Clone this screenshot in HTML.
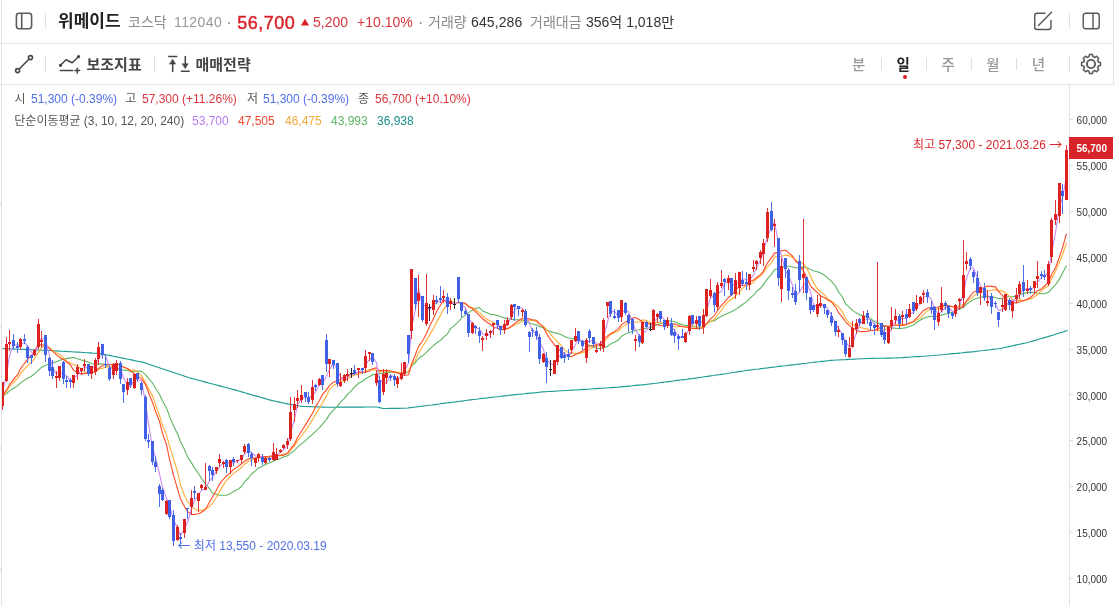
<!DOCTYPE html>
<html lang="ko"><head><meta charset="utf-8"><title>위메이드 차트</title>
<style>
*{box-sizing:border-box;margin:0;padding:0}
html,body{width:1114px;height:606px;overflow:hidden;background:#fff}
body{font-family:"Liberation Sans","Noto Sans CJK KR",sans-serif;color:#222;position:relative}
.abs{position:absolute;white-space:nowrap;line-height:1}
.chart{position:absolute;left:0;top:0}
.hline{position:absolute;left:0;width:1114px;height:1px;background:#e4e4e4}
.vline{position:absolute;width:1px;background:#e4e4e4}
.div{position:absolute;width:1px;height:16px;background:#e0e0e0}
svg.ic{position:absolute;overflow:visible}
</style></head><body>
<svg class="chart" width="1114" height="606" viewBox="0 0 1114 606" font-family="'Liberation Sans','Noto Sans CJK KR',sans-serif">
<line x1="1069.5" y1="85" x2="1069.5" y2="606" stroke="#e2e2e2" stroke-width="1"/>
<line x1="1069.5" y1="578.5" x2="1073" y2="578.5" stroke="#dcdcdc" stroke-width="1"/><text x="1076.6" y="583.1" font-size="10" fill="#333">10,000</text><line x1="1069.5" y1="532.5" x2="1073" y2="532.5" stroke="#dcdcdc" stroke-width="1"/><text x="1076.6" y="537.2" font-size="10" fill="#333">15,000</text><line x1="1069.5" y1="486.5" x2="1073" y2="486.5" stroke="#dcdcdc" stroke-width="1"/><text x="1076.6" y="491.3" font-size="10" fill="#333">20,000</text><line x1="1069.5" y1="440.5" x2="1073" y2="440.5" stroke="#dcdcdc" stroke-width="1"/><text x="1076.6" y="445.4" font-size="10" fill="#333">25,000</text><line x1="1069.5" y1="394.5" x2="1073" y2="394.5" stroke="#dcdcdc" stroke-width="1"/><text x="1076.6" y="399.5" font-size="10" fill="#333">30,000</text><line x1="1069.5" y1="349.5" x2="1073" y2="349.5" stroke="#dcdcdc" stroke-width="1"/><text x="1076.6" y="353.6" font-size="10" fill="#333">35,000</text><line x1="1069.5" y1="303.5" x2="1073" y2="303.5" stroke="#dcdcdc" stroke-width="1"/><text x="1076.6" y="307.7" font-size="10" fill="#333">40,000</text><line x1="1069.5" y1="257.5" x2="1073" y2="257.5" stroke="#dcdcdc" stroke-width="1"/><text x="1076.6" y="261.8" font-size="10" fill="#333">45,000</text><line x1="1069.5" y1="211.5" x2="1073" y2="211.5" stroke="#dcdcdc" stroke-width="1"/><text x="1076.6" y="215.9" font-size="10" fill="#333">50,000</text><line x1="1069.5" y1="165.5" x2="1073" y2="165.5" stroke="#dcdcdc" stroke-width="1"/><text x="1076.6" y="170.0" font-size="10" fill="#333">55,000</text><line x1="1069.5" y1="119.5" x2="1073" y2="119.5" stroke="#dcdcdc" stroke-width="1"/><text x="1076.6" y="124.1" font-size="10" fill="#333">60,000</text>
<g fill="none" stroke-width="1.1" stroke-linejoin="round">
<path d="M2.5,348.6 L5.5,348.7 L8.5,348.8 L11.5,349.0 L14.5,349.1 L17.5,349.2 L20.5,349.3 L23.5,349.4 L26.5,349.6 L29.5,349.7 L32.5,349.8 L35.5,349.9 L38.5,350.0 L41.5,350.2 L44.5,350.3 L47.5,350.4 L50.5,350.5 L53.5,350.7 L56.5,350.9 L59.5,351.1 L62.5,351.2 L65.5,351.4 L68.5,351.6 L71.5,351.8 L74.5,352.0 L77.5,352.1 L80.5,352.3 L83.5,352.5 L86.5,352.7 L89.5,352.9 L92.5,353.1 L95.5,353.2 L98.5,353.4 L101.5,353.8 L104.5,354.4 L107.5,355.0 L110.5,355.6 L113.5,356.3 L116.5,356.9 L119.5,357.5 L122.5,358.1 L125.5,358.7 L128.5,359.3 L131.5,359.9 L134.5,360.6 L137.5,361.2 L140.5,361.8 L143.5,362.4 L146.5,363.3 L149.5,364.4 L152.5,365.4 L155.5,366.4 L158.5,367.4 L161.5,368.4 L164.5,369.4 L167.5,370.4 L170.5,371.4 L173.5,372.4 L176.5,373.5 L179.5,374.5 L182.5,375.5 L185.5,376.5 L188.5,377.5 L191.5,378.4 L194.5,379.2 L197.5,380.0 L200.5,380.8 L203.5,381.6 L206.5,382.4 L209.5,383.2 L212.5,384.0 L215.5,384.8 L218.5,385.6 L221.5,386.4 L224.5,387.2 L227.5,388.0 L230.5,388.8 L233.5,389.6 L236.5,390.4 L239.5,391.3 L242.5,392.1 L245.5,393.0 L248.5,393.9 L251.5,394.7 L254.5,395.6 L257.5,396.4 L260.5,397.3 L263.5,398.1 L266.5,399.0 L269.5,399.9 L272.5,400.6 L275.5,401.2 L278.5,401.9 L281.5,402.6 L284.5,403.2 L287.5,403.9 L290.5,404.4 L293.5,405.0 L296.5,405.5 L299.5,406.0 L302.5,406.4 L305.5,406.5 L308.5,406.6 L311.5,406.7 L314.5,406.8 L317.5,406.9 L320.5,407.0 L323.5,407.1 L326.5,407.2 L329.5,407.2 L332.5,407.2 L335.5,407.2 L338.5,407.1 L341.5,407.1 L344.5,407.1 L347.5,407.1 L350.5,407.1 L353.5,407.1 L356.5,407.1 L359.5,407.1 L362.5,407.1 L365.5,407.0 L368.5,407.0 L371.5,407.0 L374.5,407.0 L377.5,407.0 L380.5,407.9 L383.5,408.5 L386.5,408.5 L389.5,408.4 L392.5,408.4 L395.5,408.4 L398.5,408.4 L401.5,408.3 L404.5,408.3 L407.5,408.0 L410.5,407.6 L413.5,407.2 L416.5,406.9 L419.5,406.5 L422.5,406.1 L425.5,405.7 L428.5,405.3 L431.5,405.0 L434.5,404.6 L437.5,404.2 L440.5,403.8 L443.5,403.4 L446.5,403.0 L449.5,402.6 L452.5,402.2 L455.5,401.9 L458.5,401.5 L461.5,401.1 L464.5,400.7 L467.5,400.3 L470.5,399.9 L473.5,399.5 L476.5,399.2 L479.5,398.8 L482.5,398.4 L485.5,398.1 L488.5,397.7 L491.5,397.4 L494.5,397.0 L497.5,396.7 L500.5,396.3 L503.5,395.9 L506.5,395.6 L509.5,395.2 L512.5,394.9 L515.5,394.6 L518.5,394.3 L521.5,394.1 L524.5,393.8 L527.5,393.4 L530.5,393.1 L533.5,392.9 L536.5,392.6 L539.5,392.2 L542.5,391.9 L545.5,391.7 L548.5,391.5 L551.5,391.4 L554.5,391.2 L557.5,391.0 L560.5,390.8 L563.5,390.7 L566.5,390.5 L569.5,390.3 L572.5,390.1 L575.5,390.0 L578.5,389.8 L581.5,389.6 L584.5,389.4 L587.5,389.2 L590.5,389.0 L593.5,388.8 L596.5,388.6 L599.5,388.4 L602.5,388.2 L605.5,388.0 L608.5,387.8 L611.5,387.6 L614.5,387.4 L617.5,387.2 L620.5,386.9 L623.5,386.6 L626.5,386.4 L629.5,386.1 L632.5,385.8 L635.5,385.4 L638.5,385.1 L641.5,384.9 L644.5,384.6 L647.5,384.2 L650.5,383.9 L653.5,383.5 L656.5,383.2 L659.5,382.8 L662.5,382.4 L665.5,382.0 L668.5,381.6 L671.5,381.2 L674.5,380.8 L677.5,380.4 L680.5,380.0 L683.5,379.6 L686.5,379.3 L689.5,378.9 L692.5,378.5 L695.5,378.1 L698.5,377.7 L701.5,377.3 L704.5,376.8 L707.5,376.4 L710.5,375.9 L713.5,375.5 L716.5,375.0 L719.5,374.6 L722.5,374.1 L725.5,373.7 L728.5,373.2 L731.5,372.8 L734.5,372.3 L737.5,371.9 L740.5,371.4 L743.5,371.0 L746.5,370.5 L749.5,370.1 L752.5,369.7 L755.5,369.3 L758.5,369.0 L761.5,368.6 L764.5,368.2 L767.5,367.9 L770.5,367.5 L773.5,367.1 L776.5,366.8 L779.5,366.4 L782.5,366.0 L785.5,365.7 L788.5,365.3 L791.5,364.9 L794.5,364.6 L797.5,364.2 L800.5,363.9 L803.5,363.5 L806.5,363.2 L809.5,362.8 L812.5,362.5 L815.5,362.1 L818.5,361.8 L821.5,361.4 L824.5,361.1 L827.5,360.7 L830.5,360.4 L833.5,360.2 L836.5,360.0 L839.5,359.9 L842.5,359.7 L845.5,359.6 L848.5,359.4 L851.5,359.3 L854.5,359.1 L857.5,359.0 L860.5,358.8 L863.5,358.7 L866.5,358.5 L869.5,358.5 L872.5,358.4 L875.5,358.3 L878.5,358.3 L881.5,358.2 L884.5,358.2 L887.5,358.1 L890.5,358.1 L893.5,358.0 L896.5,357.9 L899.5,357.7 L902.5,357.6 L905.5,357.4 L908.5,357.2 L911.5,357.0 L914.5,356.8 L917.5,356.6 L920.5,356.5 L923.5,356.2 L926.5,356.0 L929.5,355.7 L932.5,355.5 L935.5,355.2 L938.5,355.0 L941.5,354.7 L944.5,354.5 L947.5,354.2 L950.5,353.9 L953.5,353.6 L956.5,353.4 L959.5,353.1 L962.5,352.8 L965.5,352.4 L968.5,352.1 L971.5,351.9 L974.5,351.6 L977.5,351.2 L980.5,350.8 L983.5,350.5 L986.5,350.1 L989.5,349.8 L992.5,349.4 L995.5,349.0 L998.5,348.7 L1001.5,348.2 L1004.5,347.5 L1007.5,346.9 L1010.5,346.2 L1013.5,345.6 L1016.5,344.9 L1019.5,344.3 L1022.5,343.6 L1025.5,343.0 L1028.5,342.3 L1031.5,341.5 L1034.5,340.6 L1037.5,339.7 L1040.5,338.8 L1043.5,337.9 L1046.5,337.0 L1049.5,336.1 L1052.5,335.2 L1055.5,334.2 L1058.5,333.3 L1061.5,332.4 L1064.5,331.4 L1067.5,330.5" stroke="#1a9a94"/>
<path d="M2.5,396.3 L6.5,393.6 L9.5,390.9 L13.5,388.3 L17.5,385.9 L20.5,382.9 L24.5,380.1 L27.5,378.2 L31.5,376.2 L34.5,373.9 L38.5,370.2 L41.5,367.4 L45.5,365.3 L49.5,364.0 L52.5,362.9 L56.5,361.8 L59.5,360.3 L63.5,359.4 L66.5,358.6 L70.5,357.9 L73.5,357.5 L77.5,358.7 L81.5,360.0 L84.5,360.9 L88.5,362.2 L91.5,363.5 L95.5,364.5 L98.5,363.9 L102.5,363.8 L105.5,364.6 L109.5,367.3 L113.5,368.5 L116.5,368.9 L120.5,369.3 L123.5,370.1 L127.5,370.4 L130.5,371.4 L134.5,371.1 L137.5,371.0 L141.5,371.4 L145.5,374.6 L148.5,378.3 L152.5,383.0 L155.5,388.2 L159.5,394.2 L162.5,400.9 L166.5,407.9 L169.5,416.4 L173.5,425.7 L177.5,433.8 L180.5,441.8 L184.5,449.5 L187.5,456.9 L191.5,462.9 L194.5,467.9 L198.5,473.5 L201.5,478.5 L205.5,484.1 L209.5,488.7 L212.5,493.0 L216.5,494.4 L219.5,495.2 L223.5,495.2 L226.5,495.2 L230.5,493.5 L233.5,491.6 L237.5,489.6 L241.5,486.5 L244.5,481.8 L248.5,478.0 L251.5,474.0 L255.5,470.9 L258.5,468.1 L262.5,466.3 L265.5,464.5 L269.5,462.9 L273.5,461.2 L276.5,459.6 L280.5,458.5 L283.5,457.0 L287.5,455.8 L290.5,453.4 L294.5,450.5 L297.5,447.1 L301.5,443.9 L305.5,440.6 L308.5,437.7 L312.5,434.3 L315.5,431.4 L319.5,427.7 L322.5,424.1 L326.5,419.4 L329.5,414.6 L333.5,409.8 L337.5,406.1 L340.5,402.2 L344.5,398.4 L347.5,394.4 L351.5,390.6 L354.5,387.0 L358.5,383.3 L362.5,381.2 L365.5,378.8 L369.5,376.5 L372.5,374.9 L376.5,373.7 L379.5,373.7 L383.5,373.1 L386.5,372.4 L390.5,372.3 L394.5,372.0 L397.5,372.7 L401.5,373.4 L404.5,373.2 L408.5,371.7 L411.5,366.1 L415.5,362.5 L418.5,358.5 L422.5,355.8 L426.5,352.3 L429.5,349.2 L433.5,345.7 L436.5,343.0 L440.5,340.4 L443.5,337.1 L447.5,333.8 L450.5,328.7 L454.5,325.3 L458.5,321.6 L461.5,318.2 L465.5,314.9 L468.5,312.6 L472.5,310.1 L475.5,308.4 L479.5,307.5 L482.5,311.0 L486.5,312.4 L490.5,314.3 L493.5,314.5 L497.5,315.6 L500.5,316.7 L504.5,317.9 L507.5,318.8 L511.5,319.1 L514.5,319.6 L518.5,319.7 L522.5,320.1 L525.5,321.1 L529.5,323.0 L532.5,324.0 L536.5,325.1 L539.5,326.5 L543.5,328.0 L546.5,330.0 L550.5,331.6 L554.5,332.7 L557.5,333.4 L561.5,334.7 L564.5,336.4 L568.5,338.0 L571.5,338.5 L575.5,339.1 L578.5,340.2 L582.5,342.2 L586.5,343.9 L589.5,345.3 L593.5,347.0 L596.5,348.2 L600.5,348.6 L603.5,348.0 L607.5,346.3 L610.5,344.1 L614.5,342.3 L618.5,339.8 L621.5,336.3 L625.5,333.9 L628.5,332.8 L632.5,331.4 L635.5,330.5 L639.5,329.7 L642.5,328.8 L646.5,328.3 L650.5,327.8 L653.5,326.0 L657.5,324.7 L660.5,323.8 L664.5,322.9 L667.5,321.4 L671.5,321.0 L674.5,321.8 L678.5,323.6 L682.5,324.8 L685.5,325.6 L689.5,325.4 L692.5,326.6 L696.5,327.0 L699.5,327.2 L703.5,326.5 L706.5,324.0 L710.5,321.4 L714.5,320.6 L717.5,318.5 L721.5,316.2 L724.5,314.8 L728.5,313.0 L731.5,311.8 L735.5,309.4 L739.5,307.0 L742.5,304.5 L746.5,301.9 L749.5,298.6 L753.5,295.1 L756.5,291.5 L760.5,288.3 L763.5,284.3 L767.5,278.9 L771.5,274.1 L774.5,269.5 L778.5,269.0 L781.5,267.8 L785.5,266.0 L788.5,266.2 L792.5,266.8 L795.5,267.8 L799.5,267.9 L803.5,266.9 L806.5,267.5 L810.5,269.4 L813.5,270.7 L817.5,271.7 L820.5,273.1 L824.5,275.2 L827.5,277.9 L831.5,281.4 L835.5,285.9 L838.5,291.8 L842.5,297.3 L845.5,303.8 L849.5,307.3 L852.5,310.4 L856.5,313.1 L859.5,314.6 L863.5,315.7 L867.5,316.6 L870.5,318.8 L874.5,321.5 L877.5,323.1 L881.5,324.3 L884.5,325.9 L888.5,327.0 L891.5,327.9 L895.5,328.3 L899.5,328.7 L902.5,328.3 L906.5,327.6 L909.5,326.6 L913.5,325.1 L916.5,322.5 L920.5,320.0 L923.5,318.2 L927.5,316.9 L931.5,316.3 L934.5,316.5 L938.5,316.2 L941.5,315.1 L945.5,314.0 L948.5,313.4 L952.5,312.4 L955.5,310.7 L959.5,309.3 L963.5,307.0 L966.5,304.3 L970.5,301.4 L973.5,299.5 L977.5,298.3 L980.5,297.2 L984.5,296.5 L987.5,296.4 L991.5,296.9 L995.5,297.5 L998.5,298.6 L1002.5,298.4 L1005.5,297.1 L1009.5,296.7 L1012.5,296.6 L1016.5,296.1 L1019.5,294.6 L1023.5,293.4 L1027.5,292.6 L1030.5,292.2 L1034.5,292.5 L1037.5,293.2 L1041.5,293.7 L1044.5,293.7 L1048.5,292.3 L1051.5,288.9 L1055.5,284.8 L1059.5,278.9 L1062.5,273.3 L1066.5,265.6" stroke="#5cb563"/>
<path d="M2.5,395.8 L6.5,391.3 L9.5,386.8 L13.5,382.5 L17.5,378.4 L20.5,373.6 L24.5,368.9 L27.5,365.6 L31.5,362.4 L34.5,358.5 L38.5,352.4 L41.5,347.6 L45.5,345.4 L49.5,347.6 L52.5,350.4 L56.5,352.9 L59.5,354.4 L63.5,357.8 L66.5,361.2 L70.5,363.1 L73.5,364.5 L77.5,366.0 L81.5,369.7 L84.5,371.7 L88.5,373.2 L91.5,372.8 L95.5,371.5 L98.5,369.1 L102.5,368.2 L105.5,367.1 L109.5,366.9 L113.5,365.4 L116.5,364.3 L120.5,365.3 L123.5,367.2 L127.5,368.8 L130.5,369.8 L134.5,370.4 L137.5,371.9 L141.5,375.6 L145.5,382.5 L148.5,388.9 L152.5,395.8 L155.5,404.5 L159.5,415.4 L162.5,425.5 L166.5,434.6 L169.5,445.8 L173.5,458.8 L177.5,471.5 L180.5,484.8 L184.5,495.6 L187.5,501.5 L191.5,506.1 L194.5,508.8 L198.5,511.0 L201.5,510.2 L205.5,509.2 L209.5,506.7 L212.5,503.2 L216.5,497.0 L219.5,491.4 L223.5,484.9 L226.5,480.6 L230.5,476.4 L233.5,473.4 L237.5,470.6 L241.5,467.5 L244.5,464.2 L248.5,461.4 L251.5,460.3 L255.5,458.8 L258.5,457.7 L262.5,458.0 L265.5,457.6 L269.5,457.1 L273.5,456.4 L276.5,455.8 L280.5,455.0 L283.5,454.1 L287.5,453.7 L290.5,450.3 L294.5,445.9 L297.5,440.9 L301.5,436.0 L305.5,430.6 L308.5,426.0 L312.5,419.9 L315.5,414.4 L319.5,408.1 L322.5,402.8 L326.5,396.1 L329.5,389.2 L333.5,385.3 L337.5,383.6 L340.5,382.3 L344.5,380.6 L347.5,378.7 L351.5,376.3 L354.5,375.2 L358.5,373.7 L362.5,372.9 L365.5,370.5 L369.5,369.5 L372.5,369.7 L376.5,370.4 L379.5,371.9 L383.5,371.3 L386.5,371.1 L390.5,371.4 L394.5,371.9 L397.5,372.2 L401.5,372.6 L404.5,372.0 L408.5,371.8 L411.5,364.8 L415.5,360.1 L418.5,353.3 L422.5,346.5 L426.5,340.6 L429.5,335.1 L433.5,328.6 L436.5,322.1 L440.5,315.6 L443.5,309.3 L447.5,304.7 L450.5,300.3 L454.5,303.2 L458.5,302.8 L461.5,304.3 L465.5,303.8 L468.5,306.2 L472.5,307.5 L475.5,309.8 L479.5,312.6 L482.5,315.8 L486.5,318.9 L490.5,320.9 L493.5,322.7 L497.5,324.4 L500.5,327.0 L504.5,328.1 L507.5,328.6 L511.5,326.3 L514.5,325.0 L518.5,323.4 L522.5,321.2 L525.5,320.1 L529.5,320.4 L532.5,320.4 L536.5,321.5 L539.5,324.3 L543.5,326.3 L546.5,329.9 L550.5,334.1 L554.5,338.7 L557.5,341.9 L561.5,346.0 L564.5,349.9 L568.5,352.6 L571.5,352.9 L575.5,353.3 L578.5,353.7 L582.5,352.6 L586.5,351.4 L589.5,349.0 L593.5,346.8 L596.5,345.9 L600.5,345.8 L603.5,342.6 L607.5,338.0 L610.5,334.4 L614.5,332.6 L618.5,331.1 L621.5,327.6 L625.5,324.9 L628.5,323.5 L632.5,322.8 L635.5,322.3 L639.5,321.7 L642.5,319.9 L646.5,320.5 L650.5,322.7 L653.5,322.5 L657.5,322.2 L660.5,322.3 L664.5,324.5 L667.5,325.1 L671.5,326.1 L674.5,326.7 L678.5,326.7 L682.5,326.3 L685.5,327.2 L689.5,326.3 L692.5,325.8 L696.5,326.6 L699.5,327.6 L703.5,327.2 L706.5,324.1 L710.5,321.6 L714.5,319.2 L717.5,315.0 L721.5,310.3 L724.5,305.7 L728.5,301.2 L731.5,299.5 L735.5,295.8 L739.5,291.8 L742.5,288.2 L746.5,285.6 L749.5,284.4 L753.5,282.4 L756.5,278.7 L760.5,276.0 L763.5,272.6 L767.5,266.8 L771.5,262.8 L774.5,256.9 L778.5,256.7 L781.5,256.2 L785.5,255.0 L788.5,255.6 L792.5,257.4 L795.5,260.2 L799.5,261.9 L803.5,263.7 L806.5,267.8 L810.5,276.0 L813.5,282.6 L817.5,289.2 L820.5,291.3 L824.5,294.9 L827.5,298.7 L831.5,301.3 L835.5,304.4 L838.5,306.8 L842.5,311.7 L845.5,318.4 L849.5,323.0 L852.5,324.5 L856.5,325.6 L859.5,327.2 L863.5,328.3 L867.5,329.1 L870.5,330.0 L874.5,330.4 L877.5,329.9 L881.5,330.3 L884.5,330.2 L888.5,328.0 L891.5,325.7 L895.5,324.7 L899.5,324.8 L902.5,324.1 L906.5,324.2 L909.5,323.4 L913.5,322.2 L916.5,320.1 L920.5,317.8 L923.5,314.3 L927.5,310.7 L931.5,309.2 L934.5,309.3 L938.5,309.1 L941.5,307.3 L945.5,306.6 L948.5,306.2 L952.5,306.7 L955.5,306.2 L959.5,305.9 L963.5,304.1 L966.5,301.4 L970.5,298.9 L973.5,296.1 L977.5,293.8 L980.5,291.7 L984.5,291.2 L987.5,290.8 L991.5,290.3 L995.5,289.4 L998.5,290.6 L1002.5,291.1 L1005.5,292.8 L1009.5,296.4 L1012.5,299.3 L1016.5,300.9 L1019.5,300.1 L1023.5,300.5 L1027.5,299.8 L1030.5,298.9 L1034.5,296.7 L1037.5,294.3 L1041.5,290.6 L1044.5,288.3 L1048.5,285.8 L1051.5,278.7 L1055.5,271.4 L1059.5,262.1 L1062.5,254.8 L1066.5,243.0" stroke="#ffad33"/>
<path d="M2.5,395.5 L6.5,390.2 L9.5,384.7 L13.5,379.6 L17.5,374.7 L20.5,368.9 L24.5,363.3 L27.5,359.4 L31.5,355.5 L34.5,350.8 L38.5,344.9 L41.5,344.6 L45.5,345.9 L49.5,348.3 L52.5,351.1 L56.5,354.8 L59.5,357.3 L63.5,359.4 L66.5,361.8 L70.5,365.0 L73.5,370.1 L77.5,372.8 L81.5,374.1 L84.5,373.4 L88.5,373.2 L91.5,372.3 L95.5,371.7 L98.5,368.4 L102.5,365.8 L105.5,364.2 L109.5,364.6 L113.5,364.2 L116.5,363.7 L120.5,365.1 L123.5,366.9 L127.5,368.5 L130.5,371.1 L134.5,373.8 L137.5,376.1 L141.5,378.6 L145.5,384.6 L148.5,392.5 L152.5,402.4 L155.5,411.2 L159.5,421.4 L162.5,433.2 L166.5,444.7 L169.5,459.1 L173.5,475.2 L177.5,488.9 L180.5,498.9 L184.5,506.6 L187.5,511.4 L191.5,514.5 L194.5,514.4 L198.5,513.8 L201.5,512.2 L205.5,509.2 L209.5,502.2 L212.5,497.0 L216.5,489.9 L219.5,483.8 L223.5,479.1 L226.5,475.9 L230.5,472.6 L233.5,469.4 L237.5,466.9 L241.5,463.8 L244.5,461.3 L248.5,459.0 L251.5,458.1 L255.5,458.0 L258.5,457.2 L262.5,456.7 L265.5,456.5 L269.5,456.3 L273.5,455.5 L276.5,455.4 L280.5,455.8 L283.5,455.1 L287.5,453.4 L290.5,448.9 L294.5,443.9 L297.5,437.5 L301.5,431.3 L305.5,424.9 L308.5,419.9 L312.5,413.2 L315.5,406.9 L319.5,400.3 L322.5,394.7 L326.5,389.9 L329.5,385.4 L333.5,382.1 L337.5,381.0 L340.5,379.5 L344.5,376.8 L347.5,375.6 L351.5,374.2 L354.5,373.7 L358.5,372.0 L362.5,372.5 L365.5,372.2 L369.5,370.9 L372.5,368.7 L376.5,367.9 L379.5,370.6 L383.5,370.5 L386.5,370.5 L390.5,371.0 L394.5,372.1 L397.5,372.9 L401.5,374.5 L404.5,375.5 L408.5,374.8 L411.5,364.2 L415.5,354.5 L418.5,346.4 L422.5,341.1 L426.5,333.6 L429.5,326.3 L433.5,318.6 L436.5,311.5 L440.5,305.3 L443.5,299.5 L447.5,303.3 L450.5,303.0 L454.5,304.1 L458.5,302.1 L461.5,302.8 L465.5,303.4 L468.5,306.7 L472.5,308.7 L475.5,311.6 L479.5,315.6 L482.5,318.7 L486.5,321.8 L490.5,324.5 L493.5,326.9 L497.5,328.3 L500.5,330.0 L504.5,329.1 L507.5,328.8 L511.5,326.5 L514.5,323.6 L518.5,320.7 L522.5,318.3 L525.5,317.7 L529.5,319.1 L532.5,319.7 L536.5,320.3 L539.5,323.8 L543.5,327.2 L546.5,333.4 L550.5,339.7 L554.5,344.9 L557.5,348.4 L561.5,351.6 L564.5,353.7 L568.5,356.3 L571.5,356.7 L575.5,354.4 L578.5,353.1 L582.5,351.0 L586.5,348.0 L589.5,345.8 L593.5,345.6 L596.5,344.8 L600.5,343.4 L603.5,339.7 L607.5,335.9 L610.5,333.7 L614.5,331.4 L618.5,328.6 L621.5,324.6 L625.5,322.1 L628.5,320.0 L632.5,318.0 L635.5,317.5 L639.5,319.7 L642.5,321.7 L646.5,323.0 L650.5,324.1 L653.5,323.4 L657.5,324.8 L660.5,325.5 L664.5,325.9 L667.5,324.9 L671.5,324.5 L674.5,324.0 L678.5,325.6 L682.5,326.7 L685.5,327.0 L689.5,327.5 L692.5,328.4 L696.5,328.6 L699.5,328.5 L703.5,328.0 L706.5,323.5 L710.5,318.9 L714.5,315.6 L717.5,310.4 L721.5,305.4 L724.5,302.1 L728.5,297.5 L731.5,295.0 L735.5,290.3 L739.5,286.0 L742.5,285.5 L746.5,284.8 L749.5,281.7 L753.5,279.9 L756.5,277.7 L760.5,274.6 L763.5,271.1 L767.5,262.8 L771.5,257.9 L774.5,253.1 L778.5,252.4 L781.5,250.7 L785.5,250.2 L788.5,252.6 L792.5,256.0 L795.5,261.0 L799.5,264.7 L803.5,270.9 L806.5,277.1 L810.5,285.8 L813.5,289.0 L817.5,292.7 L820.5,296.1 L824.5,297.8 L827.5,299.8 L831.5,301.9 L835.5,307.1 L838.5,312.7 L842.5,317.4 L845.5,321.8 L849.5,325.6 L852.5,328.1 L856.5,330.1 L859.5,331.5 L863.5,331.6 L867.5,331.2 L870.5,330.6 L874.5,330.3 L877.5,328.8 L881.5,326.9 L884.5,326.1 L888.5,326.1 L891.5,325.7 L895.5,325.0 L899.5,325.8 L902.5,325.5 L906.5,324.6 L909.5,322.8 L913.5,321.4 L916.5,318.2 L920.5,313.9 L923.5,310.4 L927.5,308.2 L931.5,307.5 L934.5,307.2 L938.5,307.0 L941.5,305.5 L945.5,305.2 L948.5,305.4 L952.5,306.7 L955.5,307.5 L959.5,308.1 L963.5,305.9 L966.5,301.1 L970.5,295.6 L973.5,292.0 L977.5,291.0 L980.5,289.1 L984.5,287.6 L987.5,286.1 L991.5,286.4 L995.5,286.9 L998.5,291.4 L1002.5,295.7 L1005.5,298.6 L1009.5,301.4 L1012.5,302.2 L1016.5,303.1 L1019.5,301.7 L1023.5,300.7 L1027.5,298.9 L1030.5,297.5 L1034.5,293.6 L1037.5,290.7 L1041.5,288.9 L1044.5,286.0 L1048.5,282.3 L1051.5,274.8 L1055.5,267.8 L1059.5,257.0 L1062.5,247.7 L1066.5,233.7" stroke="#ff4a26"/>
<path d="M2.5,392.1 L6.5,374.3 L9.5,356.0 L13.5,344.1 L17.5,345.4 L20.5,344.2 L24.5,342.4 L27.5,345.9 L31.5,352.3 L34.5,355.3 L38.5,344.0 L41.5,338.0 L45.5,339.7 L49.5,355.3 L52.5,367.2 L56.5,374.1 L59.5,372.5 L63.5,373.6 L66.5,375.6 L70.5,380.8 L73.5,379.5 L77.5,374.6 L81.5,370.1 L84.5,366.5 L88.5,368.6 L91.5,367.9 L95.5,366.6 L98.5,357.7 L102.5,354.0 L105.5,355.8 L109.5,366.6 L113.5,369.3 L116.5,368.4 L120.5,368.3 L123.5,377.7 L127.5,384.2 L130.5,386.5 L134.5,380.4 L137.5,379.3 L141.5,380.9 L145.5,402.7 L148.5,423.8 L152.5,447.7 L155.5,457.1 L159.5,474.2 L162.5,486.9 L166.5,498.1 L169.5,505.9 L173.5,519.6 L177.5,528.2 L180.5,535.5 L184.5,528.4 L187.5,522.5 L191.5,509.0 L194.5,500.3 L198.5,495.0 L201.5,490.5 L205.5,488.4 L209.5,481.0 L212.5,477.7 L216.5,471.0 L219.5,467.0 L223.5,462.6 L226.5,462.5 L230.5,462.8 L233.5,462.9 L237.5,460.6 L241.5,459.1 L244.5,453.8 L248.5,451.4 L251.5,452.2 L255.5,456.0 L258.5,456.5 L262.5,457.8 L265.5,457.8 L269.5,459.9 L273.5,456.7 L276.5,455.6 L280.5,452.2 L283.5,449.8 L287.5,445.4 L290.5,432.9 L294.5,419.2 L297.5,404.8 L301.5,399.1 L305.5,396.8 L308.5,398.2 L312.5,395.3 L315.5,392.0 L319.5,384.2 L322.5,383.7 L326.5,376.3 L329.5,369.6 L333.5,363.0 L337.5,369.4 L340.5,377.1 L344.5,380.4 L347.5,377.3 L351.5,374.4 L354.5,373.8 L358.5,371.7 L362.5,370.5 L365.5,364.7 L369.5,359.5 L372.5,356.8 L376.5,362.8 L379.5,379.3 L383.5,383.4 L386.5,382.9 L390.5,375.1 L394.5,377.0 L397.5,378.5 L401.5,376.6 L404.5,370.8 L408.5,363.0 L411.5,328.4 L415.5,309.2 L418.5,288.7 L422.5,305.8 L426.5,305.4 L429.5,310.2 L433.5,303.6 L436.5,303.2 L440.5,300.6 L443.5,299.3 L447.5,300.9 L450.5,301.5 L454.5,304.2 L458.5,301.6 L461.5,304.8 L465.5,307.8 L468.5,319.0 L472.5,322.9 L475.5,327.7 L479.5,328.9 L482.5,334.1 L486.5,335.7 L490.5,334.1 L493.5,329.1 L497.5,326.4 L500.5,326.1 L504.5,326.5 L507.5,324.6 L511.5,316.2 L514.5,310.4 L518.5,306.8 L522.5,308.5 L525.5,314.5 L529.5,323.9 L532.5,331.0 L536.5,334.6 L539.5,342.0 L543.5,349.6 L546.5,360.0 L550.5,363.5 L554.5,365.6 L557.5,358.3 L561.5,354.4 L564.5,353.5 L568.5,357.3 L571.5,351.6 L575.5,344.4 L578.5,339.1 L582.5,340.8 L586.5,342.1 L589.5,341.2 L593.5,340.5 L596.5,343.7 L600.5,345.5 L603.5,337.6 L607.5,321.9 L610.5,311.9 L614.5,311.3 L618.5,316.5 L621.5,312.0 L625.5,310.2 L628.5,311.7 L632.5,321.6 L635.5,330.2 L639.5,336.6 L642.5,334.2 L646.5,330.2 L650.5,326.1 L653.5,322.1 L657.5,318.1 L660.5,314.6 L664.5,320.0 L667.5,321.8 L671.5,327.1 L674.5,330.3 L678.5,336.5 L682.5,337.4 L685.5,336.2 L689.5,328.6 L692.5,323.9 L696.5,319.9 L699.5,323.4 L703.5,320.5 L706.5,310.1 L710.5,298.1 L714.5,294.9 L717.5,293.7 L721.5,291.3 L724.5,283.6 L728.5,281.1 L731.5,285.1 L735.5,284.3 L739.5,282.3 L742.5,278.5 L746.5,279.7 L749.5,280.4 L753.5,274.9 L756.5,267.4 L760.5,260.1 L763.5,252.0 L767.5,235.6 L771.5,228.4 L774.5,222.0 L778.5,244.0 L781.5,255.9 L785.5,271.0 L788.5,275.5 L792.5,285.1 L795.5,295.9 L799.5,292.3 L803.5,285.3 L806.5,282.3 L810.5,292.3 L813.5,304.2 L817.5,307.8 L820.5,305.2 L824.5,304.9 L827.5,308.7 L831.5,315.4 L835.5,323.2 L838.5,328.2 L842.5,334.0 L845.5,341.4 L849.5,347.3 L852.5,343.2 L856.5,332.9 L859.5,324.6 L863.5,320.6 L867.5,319.1 L870.5,320.1 L874.5,324.0 L877.5,326.1 L881.5,329.1 L884.5,333.2 L888.5,334.0 L891.5,329.0 L895.5,320.9 L899.5,319.8 L902.5,318.2 L906.5,318.8 L909.5,313.8 L913.5,312.4 L916.5,307.6 L920.5,303.6 L923.5,297.5 L927.5,295.5 L931.5,299.7 L934.5,309.0 L938.5,314.3 L941.5,312.1 L945.5,307.4 L948.5,307.3 L952.5,311.5 L955.5,311.0 L959.5,306.5 L963.5,292.9 L966.5,278.4 L970.5,267.4 L973.5,268.0 L977.5,278.5 L980.5,285.5 L984.5,292.5 L987.5,295.3 L991.5,301.9 L995.5,304.2 L998.5,310.4 L1002.5,309.7 L1005.5,306.3 L1009.5,301.4 L1012.5,300.1 L1016.5,300.5 L1019.5,293.5 L1023.5,290.2 L1027.5,288.0 L1030.5,290.1 L1034.5,286.8 L1037.5,282.4 L1041.5,277.5 L1044.5,276.0 L1048.5,272.2 L1051.5,253.5 L1055.5,232.7 L1059.5,205.8 L1062.5,198.0 L1066.5,176.6" stroke="#c98bf5"/>
</g>
<g shape-rendering="crispEdges" stroke-width="1">
<path d="M2.5 382V410" stroke="#de3636"/><rect x="1" y="382" width="3" height="24" fill="#dd2020"/><path d="M6.5 337V382" stroke="#de3636"/><rect x="5" y="344" width="3" height="37" fill="#dd2020"/><path d="M9.5 330V351" stroke="#de3636"/><rect x="8" y="342" width="3" height="2" fill="#dd2020"/><path d="M13.5 334V349" stroke="#4d6ee8"/><rect x="12" y="340" width="3" height="6" fill="#4061e6"/><path d="M17.5 342V353" stroke="#4d6ee8"/><rect x="16" y="346" width="3" height="2" fill="#4061e6"/><path d="M20.5 338V350" stroke="#de3636"/><rect x="19" y="339" width="3" height="8" fill="#dd2020"/><path d="M24.5 334V344" stroke="#4d6ee8"/><rect x="23" y="339" width="3" height="2" fill="#4061e6"/><path d="M27.5 345V363" stroke="#4d6ee8"/><rect x="26" y="347" width="3" height="11" fill="#4061e6"/><path d="M31.5 355V364" stroke="#4d6ee8"/><rect x="30" y="355" width="3" height="3" fill="#4061e6"/><path d="M34.5 350V356" stroke="#de3636"/><rect x="33" y="350" width="3" height="5" fill="#dd2020"/><path d="M38.5 319V349" stroke="#de3636"/><rect x="37" y="324" width="3" height="23" fill="#dd2020"/><path d="M41.5 331V348" stroke="#de3636"/><rect x="40" y="340" width="3" height="2" fill="#dd2020"/><path d="M45.5 335V362" stroke="#4d6ee8"/><rect x="44" y="335" width="3" height="20" fill="#4061e6"/><path d="M49.5 357V376" stroke="#4d6ee8"/><rect x="48" y="358" width="3" height="13" fill="#4061e6"/><path d="M52.5 360V379" stroke="#4d6ee8"/><rect x="51" y="367" width="3" height="9" fill="#4061e6"/><path d="M56.5 371V388" stroke="#de3636"/><rect x="55" y="376" width="3" height="2" fill="#dd2020"/><path d="M59.5 366V381" stroke="#de3636"/><rect x="58" y="366" width="3" height="12" fill="#dd2020"/><path d="M63.5 361V384" stroke="#4d6ee8"/><rect x="62" y="362" width="3" height="17" fill="#4061e6"/><path d="M66.5 376V388" stroke="#4d6ee8"/><rect x="65" y="380" width="3" height="2" fill="#4061e6"/><path d="M70.5 378V388" stroke="#4d6ee8"/><rect x="69" y="380" width="3" height="2" fill="#4061e6"/><path d="M73.5 375V388" stroke="#de3636"/><rect x="72" y="375" width="3" height="8" fill="#dd2020"/><path d="M77.5 364V380" stroke="#de3636"/><rect x="76" y="367" width="3" height="7" fill="#dd2020"/><path d="M81.5 368V375" stroke="#de3636"/><rect x="80" y="368" width="3" height="3" fill="#dd2020"/><path d="M84.5 359V371" stroke="#de3636"/><rect x="83" y="364" width="3" height="2" fill="#dd2020"/><path d="M88.5 364V376" stroke="#4d6ee8"/><rect x="87" y="364" width="3" height="10" fill="#4061e6"/><path d="M91.5 366V379" stroke="#de3636"/><rect x="90" y="366" width="3" height="8" fill="#dd2020"/><path d="M95.5 358V375" stroke="#de3636"/><rect x="94" y="360" width="3" height="12" fill="#dd2020"/><path d="M98.5 342V365" stroke="#de3636"/><rect x="97" y="347" width="3" height="12" fill="#dd2020"/><path d="M102.5 344V359" stroke="#4d6ee8"/><rect x="101" y="344" width="3" height="11" fill="#4061e6"/><path d="M105.5 355V368" stroke="#4d6ee8"/><rect x="104" y="364" width="3" height="1" fill="#4061e6"/><path d="M109.5 365V381" stroke="#4d6ee8"/><rect x="108" y="368" width="3" height="11" fill="#4061e6"/><path d="M113.5 363V379" stroke="#de3636"/><rect x="112" y="364" width="3" height="11" fill="#dd2020"/><path d="M116.5 360V375" stroke="#de3636"/><rect x="115" y="363" width="3" height="8" fill="#dd2020"/><path d="M120.5 361V384" stroke="#4d6ee8"/><rect x="119" y="363" width="3" height="16" fill="#4061e6"/><path d="M123.5 384V403" stroke="#4d6ee8"/><rect x="122" y="384" width="3" height="8" fill="#4061e6"/><path d="M127.5 378V395" stroke="#de3636"/><rect x="126" y="382" width="3" height="8" fill="#dd2020"/><path d="M130.5 378V388" stroke="#4d6ee8"/><rect x="129" y="378" width="3" height="7" fill="#4061e6"/><path d="M134.5 374V389" stroke="#de3636"/><rect x="133" y="374" width="3" height="14" fill="#dd2020"/><path d="M137.5 373V382" stroke="#4d6ee8"/><rect x="136" y="373" width="3" height="6" fill="#4061e6"/><path d="M141.5 382V395" stroke="#4d6ee8"/><rect x="140" y="383" width="3" height="7" fill="#4061e6"/><path d="M145.5 395V441" stroke="#4d6ee8"/><rect x="144" y="397" width="3" height="42" fill="#4061e6"/><path d="M148.5 434V448" stroke="#4d6ee8"/><rect x="147" y="440" width="3" height="2" fill="#4061e6"/><path d="M152.5 441V465" stroke="#4d6ee8"/><rect x="151" y="441" width="3" height="21" fill="#4061e6"/><path d="M155.5 456V472" stroke="#4d6ee8"/><rect x="154" y="462" width="3" height="5" fill="#4061e6"/><path d="M159.5 484V507" stroke="#4d6ee8"/><rect x="158" y="486" width="3" height="8" fill="#4061e6"/><path d="M162.5 488V501" stroke="#4d6ee8"/><rect x="161" y="490" width="3" height="10" fill="#4061e6"/><path d="M166.5 500V515" stroke="#de3636"/><rect x="165" y="501" width="3" height="13" fill="#dd2020"/><path d="M169.5 500V519" stroke="#4d6ee8"/><rect x="168" y="500" width="3" height="17" fill="#4061e6"/><path d="M173.5 510V546" stroke="#4d6ee8"/><rect x="172" y="515" width="3" height="26" fill="#4061e6"/><path d="M177.5 525V541" stroke="#de3636"/><rect x="176" y="527" width="3" height="13" fill="#dd2020"/><path d="M180.5 533V544" stroke="#4d6ee8"/><rect x="179" y="537" width="3" height="2" fill="#4061e6"/><path d="M184.5 519V538" stroke="#de3636"/><rect x="183" y="519" width="3" height="14" fill="#dd2020"/><path d="M187.5 508V519" stroke="#4d6ee8"/><rect x="186" y="508" width="3" height="1" fill="#4061e6"/><path d="M191.5 490V515" stroke="#de3636"/><rect x="190" y="498" width="3" height="9" fill="#dd2020"/><path d="M194.5 486V499" stroke="#4d6ee8"/><rect x="193" y="491" width="3" height="2" fill="#4061e6"/><path d="M198.5 493V512" stroke="#de3636"/><rect x="197" y="493" width="3" height="8" fill="#dd2020"/><path d="M201.5 484V490" stroke="#de3636"/><rect x="200" y="485" width="3" height="3" fill="#dd2020"/><path d="M205.5 463V490" stroke="#de3636"/><rect x="204" y="487" width="3" height="3" fill="#dd2020"/><path d="M209.5 465V481" stroke="#4d6ee8"/><rect x="208" y="466" width="3" height="5" fill="#4061e6"/><path d="M212.5 467V481" stroke="#4d6ee8"/><rect x="211" y="470" width="3" height="5" fill="#4061e6"/><path d="M216.5 467V474" stroke="#de3636"/><rect x="215" y="467" width="3" height="4" fill="#dd2020"/><path d="M219.5 454V467" stroke="#de3636"/><rect x="218" y="459" width="3" height="4" fill="#dd2020"/><path d="M223.5 461V468" stroke="#de3636"/><rect x="222" y="462" width="3" height="2" fill="#dd2020"/><path d="M226.5 459V473" stroke="#4d6ee8"/><rect x="225" y="460" width="3" height="7" fill="#4061e6"/><path d="M230.5 460V474" stroke="#de3636"/><rect x="229" y="460" width="3" height="7" fill="#dd2020"/><path d="M233.5 457V466" stroke="#4d6ee8"/><rect x="232" y="459" width="3" height="3" fill="#4061e6"/><path d="M237.5 460V463" stroke="#de3636"/><rect x="236" y="460" width="3" height="1" fill="#dd2020"/><path d="M241.5 455V464" stroke="#de3636"/><rect x="240" y="455" width="3" height="5" fill="#dd2020"/><path d="M244.5 444V454" stroke="#de3636"/><rect x="243" y="446" width="3" height="6" fill="#dd2020"/><path d="M248.5 443V457" stroke="#4d6ee8"/><rect x="247" y="444" width="3" height="9" fill="#4061e6"/><path d="M251.5 452V466" stroke="#4d6ee8"/><rect x="250" y="454" width="3" height="4" fill="#4061e6"/><path d="M255.5 458V467" stroke="#de3636"/><rect x="254" y="458" width="3" height="5" fill="#dd2020"/><path d="M258.5 453V462" stroke="#de3636"/><rect x="257" y="454" width="3" height="4" fill="#dd2020"/><path d="M262.5 454V465" stroke="#4d6ee8"/><rect x="261" y="457" width="3" height="5" fill="#4061e6"/><path d="M265.5 457V464" stroke="#de3636"/><rect x="264" y="458" width="3" height="5" fill="#dd2020"/><path d="M269.5 457V462" stroke="#4d6ee8"/><rect x="268" y="458" width="3" height="2" fill="#4061e6"/><path d="M273.5 443V461" stroke="#de3636"/><rect x="272" y="452" width="3" height="8" fill="#dd2020"/><path d="M276.5 448V460" stroke="#de3636"/><rect x="275" y="454" width="3" height="6" fill="#dd2020"/><path d="M280.5 449V453" stroke="#de3636"/><rect x="279" y="450" width="3" height="2" fill="#dd2020"/><path d="M283.5 444V449" stroke="#de3636"/><rect x="282" y="445" width="3" height="3" fill="#dd2020"/><path d="M287.5 438V449" stroke="#de3636"/><rect x="286" y="441" width="3" height="4" fill="#dd2020"/><path d="M290.5 397V441" stroke="#de3636"/><rect x="289" y="412" width="3" height="27" fill="#dd2020"/><path d="M294.5 397V422" stroke="#de3636"/><rect x="293" y="404" width="3" height="6" fill="#dd2020"/><path d="M297.5 390V408" stroke="#de3636"/><rect x="296" y="398" width="3" height="3" fill="#dd2020"/><path d="M301.5 385V403" stroke="#de3636"/><rect x="300" y="395" width="3" height="5" fill="#dd2020"/><path d="M305.5 392V402" stroke="#4d6ee8"/><rect x="304" y="392" width="3" height="5" fill="#4061e6"/><path d="M308.5 392V404" stroke="#4d6ee8"/><rect x="307" y="397" width="3" height="5" fill="#4061e6"/><path d="M312.5 380V404" stroke="#de3636"/><rect x="311" y="387" width="3" height="13" fill="#dd2020"/><path d="M315.5 384V391" stroke="#4d6ee8"/><rect x="314" y="385" width="3" height="2" fill="#4061e6"/><path d="M319.5 378V386" stroke="#de3636"/><rect x="318" y="379" width="3" height="6" fill="#dd2020"/><path d="M322.5 375V390" stroke="#4d6ee8"/><rect x="321" y="375" width="3" height="10" fill="#4061e6"/><path d="M326.5 334V372" stroke="#4d6ee8"/><rect x="325" y="340" width="3" height="24" fill="#4061e6"/><path d="M329.5 359V377" stroke="#de3636"/><rect x="328" y="359" width="3" height="5" fill="#dd2020"/><path d="M333.5 360V369" stroke="#4d6ee8"/><rect x="332" y="360" width="3" height="5" fill="#4061e6"/><path d="M337.5 363V387" stroke="#4d6ee8"/><rect x="336" y="363" width="3" height="21" fill="#4061e6"/><path d="M340.5 373V387" stroke="#de3636"/><rect x="339" y="382" width="3" height="4" fill="#dd2020"/><path d="M344.5 374V383" stroke="#de3636"/><rect x="343" y="375" width="3" height="6" fill="#dd2020"/><path d="M347.5 369V381" stroke="#de3636"/><rect x="346" y="374" width="3" height="2" fill="#dd2020"/><path d="M351.5 368V378" stroke="#2a2a2a"/><rect x="350" y="373" width="3" height="1" fill="#1a1a1a"/><path d="M354.5 365V375" stroke="#4d6ee8"/><rect x="353" y="370" width="3" height="4" fill="#4061e6"/><path d="M358.5 368V378" stroke="#de3636"/><rect x="357" y="368" width="3" height="2" fill="#dd2020"/><path d="M362.5 368V374" stroke="#4d6ee8"/><rect x="361" y="368" width="3" height="2" fill="#4061e6"/><path d="M365.5 350V373" stroke="#de3636"/><rect x="364" y="356" width="3" height="12" fill="#dd2020"/><path d="M369.5 352V361" stroke="#de3636"/><rect x="368" y="352" width="3" height="2" fill="#dd2020"/><path d="M372.5 353V365" stroke="#4d6ee8"/><rect x="371" y="353" width="3" height="9" fill="#4061e6"/><path d="M376.5 370V386" stroke="#de3636"/><rect x="375" y="374" width="3" height="9" fill="#dd2020"/><path d="M379.5 376V403" stroke="#4d6ee8"/><rect x="378" y="380" width="3" height="22" fill="#4061e6"/><path d="M383.5 369V395" stroke="#de3636"/><rect x="382" y="374" width="3" height="18" fill="#dd2020"/><path d="M386.5 369V384" stroke="#de3636"/><rect x="385" y="373" width="3" height="5" fill="#dd2020"/><path d="M390.5 374V381" stroke="#4d6ee8"/><rect x="389" y="376" width="3" height="2" fill="#4061e6"/><path d="M394.5 374V386" stroke="#4d6ee8"/><rect x="393" y="376" width="3" height="4" fill="#4061e6"/><path d="M397.5 376V388" stroke="#de3636"/><rect x="396" y="378" width="3" height="6" fill="#dd2020"/><path d="M401.5 363V380" stroke="#de3636"/><rect x="400" y="373" width="3" height="6" fill="#dd2020"/><path d="M404.5 362V375" stroke="#de3636"/><rect x="403" y="362" width="3" height="12" fill="#dd2020"/><path d="M408.5 335V363" stroke="#4d6ee8"/><rect x="407" y="335" width="3" height="19" fill="#4061e6"/><path d="M411.5 269V339" stroke="#de3636"/><rect x="410" y="269" width="3" height="62" fill="#dd2020"/><path d="M415.5 278V310" stroke="#4d6ee8"/><rect x="414" y="278" width="3" height="26" fill="#4061e6"/><path d="M418.5 275V317" stroke="#de3636"/><rect x="417" y="293" width="3" height="8" fill="#dd2020"/><path d="M422.5 296V322" stroke="#4d6ee8"/><rect x="421" y="296" width="3" height="24" fill="#4061e6"/><path d="M426.5 274V326" stroke="#de3636"/><rect x="425" y="303" width="3" height="21" fill="#dd2020"/><path d="M429.5 304V321" stroke="#2a2a2a"/><rect x="428" y="307" width="3" height="1" fill="#1a1a1a"/><path d="M433.5 295V315" stroke="#de3636"/><rect x="432" y="300" width="3" height="10" fill="#dd2020"/><path d="M436.5 296V304" stroke="#4d6ee8"/><rect x="435" y="300" width="3" height="2" fill="#4061e6"/><path d="M440.5 286V303" stroke="#4d6ee8"/><rect x="439" y="298" width="3" height="2" fill="#4061e6"/><path d="M443.5 290V303" stroke="#de3636"/><rect x="442" y="296" width="3" height="2" fill="#dd2020"/><path d="M447.5 293V314" stroke="#4d6ee8"/><rect x="446" y="297" width="3" height="10" fill="#4061e6"/><path d="M450.5 298V310" stroke="#de3636"/><rect x="449" y="301" width="3" height="3" fill="#dd2020"/><path d="M454.5 298V309" stroke="#2a2a2a"/><rect x="453" y="304" width="3" height="1" fill="#1a1a1a"/><path d="M458.5 277V303" stroke="#4d6ee8"/><rect x="457" y="277" width="3" height="22" fill="#4061e6"/><path d="M461.5 302V317" stroke="#4d6ee8"/><rect x="460" y="302" width="3" height="9" fill="#4061e6"/><path d="M465.5 309V315" stroke="#4d6ee8"/><rect x="464" y="311" width="3" height="3" fill="#4061e6"/><path d="M468.5 314V337" stroke="#4d6ee8"/><rect x="467" y="314" width="3" height="19" fill="#4061e6"/><path d="M472.5 322V334" stroke="#de3636"/><rect x="471" y="323" width="3" height="10" fill="#dd2020"/><path d="M475.5 325V334" stroke="#4d6ee8"/><rect x="474" y="326" width="3" height="2" fill="#4061e6"/><path d="M479.5 327V343" stroke="#4d6ee8"/><rect x="478" y="331" width="3" height="5" fill="#4061e6"/><path d="M482.5 336V351" stroke="#de3636"/><rect x="481" y="338" width="3" height="2" fill="#dd2020"/><path d="M486.5 329V340" stroke="#de3636"/><rect x="485" y="333" width="3" height="3" fill="#dd2020"/><path d="M490.5 330V338" stroke="#de3636"/><rect x="489" y="331" width="3" height="2" fill="#dd2020"/><path d="M493.5 323V335" stroke="#de3636"/><rect x="492" y="323" width="3" height="2" fill="#dd2020"/><path d="M497.5 320V329" stroke="#4d6ee8"/><rect x="496" y="320" width="3" height="5" fill="#4061e6"/><path d="M500.5 326V335" stroke="#4d6ee8"/><rect x="499" y="326" width="3" height="4" fill="#4061e6"/><path d="M504.5 320V334" stroke="#de3636"/><rect x="503" y="324" width="3" height="6" fill="#dd2020"/><path d="M507.5 317V326" stroke="#de3636"/><rect x="506" y="320" width="3" height="5" fill="#dd2020"/><path d="M511.5 304V320" stroke="#de3636"/><rect x="510" y="305" width="3" height="12" fill="#dd2020"/><path d="M514.5 304V321" stroke="#4d6ee8"/><rect x="513" y="304" width="3" height="3" fill="#4061e6"/><path d="M518.5 306V316" stroke="#4d6ee8"/><rect x="517" y="306" width="3" height="3" fill="#4061e6"/><path d="M522.5 309V317" stroke="#de3636"/><rect x="521" y="310" width="3" height="2" fill="#dd2020"/><path d="M525.5 309V327" stroke="#4d6ee8"/><rect x="524" y="311" width="3" height="14" fill="#4061e6"/><path d="M529.5 331V352" stroke="#4d6ee8"/><rect x="528" y="332" width="3" height="5" fill="#4061e6"/><path d="M532.5 328V337" stroke="#4d6ee8"/><rect x="531" y="330" width="3" height="1" fill="#4061e6"/><path d="M536.5 327V340" stroke="#4d6ee8"/><rect x="535" y="331" width="3" height="5" fill="#4061e6"/><path d="M539.5 334V364" stroke="#4d6ee8"/><rect x="538" y="337" width="3" height="22" fill="#4061e6"/><path d="M543.5 353V363" stroke="#de3636"/><rect x="542" y="354" width="3" height="8" fill="#dd2020"/><path d="M546.5 352V383" stroke="#4d6ee8"/><rect x="545" y="358" width="3" height="9" fill="#4061e6"/><path d="M550.5 360V376" stroke="#2a2a2a"/><rect x="549" y="369" width="3" height="1" fill="#1a1a1a"/><path d="M554.5 360V374" stroke="#de3636"/><rect x="553" y="360" width="3" height="14" fill="#dd2020"/><path d="M557.5 345V365" stroke="#de3636"/><rect x="556" y="345" width="3" height="17" fill="#dd2020"/><path d="M561.5 347V359" stroke="#4d6ee8"/><rect x="560" y="347" width="3" height="11" fill="#4061e6"/><path d="M564.5 352V363" stroke="#4d6ee8"/><rect x="563" y="355" width="3" height="3" fill="#4061e6"/><path d="M568.5 349V360" stroke="#4d6ee8"/><rect x="567" y="354" width="3" height="3" fill="#4061e6"/><path d="M571.5 340V354" stroke="#de3636"/><rect x="570" y="340" width="3" height="10" fill="#dd2020"/><path d="M575.5 328V342" stroke="#de3636"/><rect x="574" y="336" width="3" height="5" fill="#dd2020"/><path d="M578.5 331V344" stroke="#4d6ee8"/><rect x="577" y="331" width="3" height="10" fill="#4061e6"/><path d="M582.5 340V350" stroke="#4d6ee8"/><rect x="581" y="341" width="3" height="5" fill="#4061e6"/><path d="M586.5 338V363" stroke="#de3636"/><rect x="585" y="340" width="3" height="18" fill="#dd2020"/><path d="M589.5 329V343" stroke="#4d6ee8"/><rect x="588" y="331" width="3" height="7" fill="#4061e6"/><path d="M593.5 337V347" stroke="#4d6ee8"/><rect x="592" y="337" width="3" height="7" fill="#4061e6"/><path d="M596.5 344V353" stroke="#de3636"/><rect x="595" y="350" width="3" height="2" fill="#dd2020"/><path d="M600.5 341V351" stroke="#de3636"/><rect x="599" y="344" width="3" height="2" fill="#dd2020"/><path d="M603.5 318V352" stroke="#de3636"/><rect x="602" y="320" width="3" height="28" fill="#dd2020"/><path d="M607.5 302V318" stroke="#de3636"/><rect x="606" y="302" width="3" height="4" fill="#dd2020"/><path d="M610.5 301V317" stroke="#4d6ee8"/><rect x="609" y="301" width="3" height="13" fill="#4061e6"/><path d="M614.5 309V319" stroke="#4d6ee8"/><rect x="613" y="316" width="3" height="2" fill="#4061e6"/><path d="M618.5 310V322" stroke="#4d6ee8"/><rect x="617" y="310" width="3" height="8" fill="#4061e6"/><path d="M621.5 300V322" stroke="#de3636"/><rect x="620" y="300" width="3" height="17" fill="#dd2020"/><path d="M625.5 302V315" stroke="#4d6ee8"/><rect x="624" y="303" width="3" height="10" fill="#4061e6"/><path d="M628.5 314V332" stroke="#4d6ee8"/><rect x="627" y="315" width="3" height="8" fill="#4061e6"/><path d="M632.5 318V334" stroke="#4d6ee8"/><rect x="631" y="319" width="3" height="11" fill="#4061e6"/><path d="M635.5 335V351" stroke="#de3636"/><rect x="634" y="339" width="3" height="2" fill="#dd2020"/><path d="M639.5 334V347" stroke="#4d6ee8"/><rect x="638" y="336" width="3" height="6" fill="#4061e6"/><path d="M642.5 322V344" stroke="#de3636"/><rect x="641" y="322" width="3" height="21" fill="#dd2020"/><path d="M646.5 321V328" stroke="#4d6ee8"/><rect x="645" y="322" width="3" height="5" fill="#4061e6"/><path d="M650.5 323V331" stroke="#2a2a2a"/><rect x="649" y="329" width="3" height="1" fill="#1a1a1a"/><path d="M653.5 309V330" stroke="#de3636"/><rect x="652" y="310" width="3" height="20" fill="#dd2020"/><path d="M657.5 313V323" stroke="#de3636"/><rect x="656" y="314" width="3" height="3" fill="#dd2020"/><path d="M660.5 311V322" stroke="#4d6ee8"/><rect x="659" y="311" width="3" height="8" fill="#4061e6"/><path d="M664.5 320V330" stroke="#4d6ee8"/><rect x="663" y="320" width="3" height="7" fill="#4061e6"/><path d="M667.5 317V328" stroke="#de3636"/><rect x="666" y="320" width="3" height="6" fill="#dd2020"/><path d="M671.5 318V336" stroke="#4d6ee8"/><rect x="670" y="323" width="3" height="12" fill="#4061e6"/><path d="M674.5 329V343" stroke="#4d6ee8"/><rect x="673" y="332" width="3" height="4" fill="#4061e6"/><path d="M678.5 334V350" stroke="#4d6ee8"/><rect x="677" y="336" width="3" height="3" fill="#4061e6"/><path d="M682.5 329V338" stroke="#4d6ee8"/><rect x="681" y="336" width="3" height="2" fill="#4061e6"/><path d="M685.5 332V343" stroke="#de3636"/><rect x="684" y="333" width="3" height="9" fill="#dd2020"/><path d="M689.5 315V335" stroke="#de3636"/><rect x="688" y="316" width="3" height="15" fill="#dd2020"/><path d="M692.5 315V325" stroke="#4d6ee8"/><rect x="691" y="315" width="3" height="9" fill="#4061e6"/><path d="M696.5 316V329" stroke="#de3636"/><rect x="695" y="320" width="3" height="4" fill="#dd2020"/><path d="M699.5 316V330" stroke="#4d6ee8"/><rect x="698" y="316" width="3" height="10" fill="#4061e6"/><path d="M703.5 309V334" stroke="#de3636"/><rect x="702" y="315" width="3" height="12" fill="#dd2020"/><path d="M706.5 289V317" stroke="#de3636"/><rect x="705" y="289" width="3" height="27" fill="#dd2020"/><path d="M710.5 279V298" stroke="#de3636"/><rect x="709" y="290" width="3" height="6" fill="#dd2020"/><path d="M714.5 292V312" stroke="#4d6ee8"/><rect x="713" y="293" width="3" height="12" fill="#4061e6"/><path d="M717.5 282V310" stroke="#de3636"/><rect x="716" y="285" width="3" height="22" fill="#dd2020"/><path d="M721.5 270V288" stroke="#de3636"/><rect x="720" y="283" width="3" height="3" fill="#dd2020"/><path d="M724.5 278V296" stroke="#4d6ee8"/><rect x="723" y="279" width="3" height="3" fill="#4061e6"/><path d="M728.5 275V290" stroke="#de3636"/><rect x="727" y="278" width="3" height="5" fill="#dd2020"/><path d="M731.5 278V296" stroke="#4d6ee8"/><rect x="730" y="278" width="3" height="17" fill="#4061e6"/><path d="M735.5 273V299" stroke="#de3636"/><rect x="734" y="280" width="3" height="14" fill="#dd2020"/><path d="M739.5 272V295" stroke="#de3636"/><rect x="738" y="272" width="3" height="16" fill="#dd2020"/><path d="M742.5 271V286" stroke="#4d6ee8"/><rect x="741" y="280" width="3" height="4" fill="#4061e6"/><path d="M746.5 272V290" stroke="#4d6ee8"/><rect x="745" y="282" width="3" height="2" fill="#4061e6"/><path d="M749.5 274V290" stroke="#de3636"/><rect x="748" y="274" width="3" height="11" fill="#dd2020"/><path d="M753.5 260V272" stroke="#de3636"/><rect x="752" y="267" width="3" height="2" fill="#dd2020"/><path d="M756.5 260V270" stroke="#de3636"/><rect x="755" y="261" width="3" height="3" fill="#dd2020"/><path d="M760.5 250V264" stroke="#de3636"/><rect x="759" y="252" width="3" height="6" fill="#dd2020"/><path d="M763.5 239V266" stroke="#de3636"/><rect x="762" y="243" width="3" height="11" fill="#dd2020"/><path d="M767.5 208V242" stroke="#de3636"/><rect x="766" y="212" width="3" height="26" fill="#dd2020"/><path d="M771.5 202V231" stroke="#4d6ee8"/><rect x="770" y="211" width="3" height="19" fill="#4061e6"/><path d="M774.5 219V247" stroke="#de3636"/><rect x="773" y="224" width="3" height="2" fill="#dd2020"/><path d="M778.5 238V286" stroke="#4d6ee8"/><rect x="777" y="238" width="3" height="40" fill="#4061e6"/><path d="M781.5 258V302" stroke="#de3636"/><rect x="780" y="266" width="3" height="23" fill="#dd2020"/><path d="M785.5 258V278" stroke="#4d6ee8"/><rect x="784" y="258" width="3" height="11" fill="#4061e6"/><path d="M788.5 268V300" stroke="#4d6ee8"/><rect x="787" y="270" width="3" height="21" fill="#4061e6"/><path d="M792.5 287V298" stroke="#4d6ee8"/><rect x="791" y="293" width="3" height="2" fill="#4061e6"/><path d="M795.5 284V305" stroke="#4d6ee8"/><rect x="794" y="291" width="3" height="11" fill="#4061e6"/><path d="M799.5 255V292" stroke="#4d6ee8"/><rect x="798" y="261" width="3" height="19" fill="#4061e6"/><path d="M803.5 219V293" stroke="#de3636"/><rect x="802" y="274" width="3" height="4" fill="#dd2020"/><path d="M806.5 277V300" stroke="#4d6ee8"/><rect x="805" y="277" width="3" height="16" fill="#4061e6"/><path d="M810.5 297V314" stroke="#4d6ee8"/><rect x="809" y="297" width="3" height="13" fill="#4061e6"/><path d="M813.5 305V312" stroke="#4d6ee8"/><rect x="812" y="305" width="3" height="5" fill="#4061e6"/><path d="M817.5 295V317" stroke="#de3636"/><rect x="816" y="304" width="3" height="10" fill="#dd2020"/><path d="M820.5 295V308" stroke="#de3636"/><rect x="819" y="303" width="3" height="3" fill="#dd2020"/><path d="M824.5 304V314" stroke="#4d6ee8"/><rect x="823" y="304" width="3" height="4" fill="#4061e6"/><path d="M827.5 310V318" stroke="#4d6ee8"/><rect x="826" y="310" width="3" height="5" fill="#4061e6"/><path d="M831.5 312V326" stroke="#4d6ee8"/><rect x="830" y="316" width="3" height="7" fill="#4061e6"/><path d="M835.5 321V336" stroke="#4d6ee8"/><rect x="834" y="321" width="3" height="11" fill="#4061e6"/><path d="M838.5 326V337" stroke="#de3636"/><rect x="837" y="330" width="3" height="2" fill="#dd2020"/><path d="M842.5 333V345" stroke="#4d6ee8"/><rect x="841" y="333" width="3" height="7" fill="#4061e6"/><path d="M845.5 340V357" stroke="#4d6ee8"/><rect x="844" y="340" width="3" height="14" fill="#4061e6"/><path d="M849.5 337V358" stroke="#de3636"/><rect x="848" y="348" width="3" height="9" fill="#dd2020"/><path d="M852.5 321V348" stroke="#de3636"/><rect x="851" y="328" width="3" height="19" fill="#dd2020"/><path d="M856.5 319V334" stroke="#de3636"/><rect x="855" y="323" width="3" height="6" fill="#dd2020"/><path d="M859.5 318V326" stroke="#4d6ee8"/><rect x="858" y="319" width="3" height="4" fill="#4061e6"/><path d="M863.5 311V324" stroke="#de3636"/><rect x="862" y="316" width="3" height="8" fill="#dd2020"/><path d="M867.5 310V324" stroke="#4d6ee8"/><rect x="866" y="313" width="3" height="5" fill="#4061e6"/><path d="M870.5 320V331" stroke="#4d6ee8"/><rect x="869" y="322" width="3" height="4" fill="#4061e6"/><path d="M874.5 323V335" stroke="#4d6ee8"/><rect x="873" y="325" width="3" height="3" fill="#4061e6"/><path d="M877.5 262V331" stroke="#de3636"/><rect x="876" y="325" width="3" height="2" fill="#dd2020"/><path d="M881.5 323V337" stroke="#4d6ee8"/><rect x="880" y="323" width="3" height="12" fill="#4061e6"/><path d="M884.5 327V344" stroke="#4d6ee8"/><rect x="883" y="332" width="3" height="8" fill="#4061e6"/><path d="M888.5 326V344" stroke="#de3636"/><rect x="887" y="327" width="3" height="16" fill="#dd2020"/><path d="M891.5 307V330" stroke="#de3636"/><rect x="890" y="320" width="3" height="6" fill="#dd2020"/><path d="M895.5 309V324" stroke="#de3636"/><rect x="894" y="316" width="3" height="4" fill="#dd2020"/><path d="M899.5 314V329" stroke="#4d6ee8"/><rect x="898" y="316" width="3" height="8" fill="#4061e6"/><path d="M902.5 311V326" stroke="#de3636"/><rect x="901" y="315" width="3" height="2" fill="#dd2020"/><path d="M906.5 309V324" stroke="#4d6ee8"/><rect x="905" y="314" width="3" height="4" fill="#4061e6"/><path d="M909.5 304V318" stroke="#de3636"/><rect x="908" y="309" width="3" height="8" fill="#dd2020"/><path d="M913.5 302V314" stroke="#4d6ee8"/><rect x="912" y="302" width="3" height="9" fill="#4061e6"/><path d="M916.5 295V311" stroke="#de3636"/><rect x="915" y="303" width="3" height="6" fill="#dd2020"/><path d="M920.5 296V304" stroke="#de3636"/><rect x="919" y="297" width="3" height="7" fill="#dd2020"/><path d="M923.5 290V303" stroke="#de3636"/><rect x="922" y="293" width="3" height="2" fill="#dd2020"/><path d="M927.5 289V303" stroke="#4d6ee8"/><rect x="926" y="292" width="3" height="5" fill="#4061e6"/><path d="M931.5 301V314" stroke="#4d6ee8"/><rect x="930" y="307" width="3" height="3" fill="#4061e6"/><path d="M934.5 306V330" stroke="#4d6ee8"/><rect x="933" y="307" width="3" height="13" fill="#4061e6"/><path d="M938.5 307V326" stroke="#de3636"/><rect x="937" y="313" width="3" height="9" fill="#dd2020"/><path d="M941.5 287V312" stroke="#de3636"/><rect x="940" y="303" width="3" height="7" fill="#dd2020"/><path d="M945.5 301V310" stroke="#4d6ee8"/><rect x="944" y="303" width="3" height="3" fill="#4061e6"/><path d="M948.5 305V318" stroke="#4d6ee8"/><rect x="947" y="306" width="3" height="7" fill="#4061e6"/><path d="M952.5 312V319" stroke="#4d6ee8"/><rect x="951" y="313" width="3" height="3" fill="#4061e6"/><path d="M955.5 304V317" stroke="#de3636"/><rect x="954" y="305" width="3" height="9" fill="#dd2020"/><path d="M959.5 298V310" stroke="#de3636"/><rect x="958" y="299" width="3" height="2" fill="#dd2020"/><path d="M963.5 240V308" stroke="#de3636"/><rect x="962" y="275" width="3" height="23" fill="#dd2020"/><path d="M966.5 252V270" stroke="#de3636"/><rect x="965" y="261" width="3" height="3" fill="#dd2020"/><path d="M970.5 257V270" stroke="#4d6ee8"/><rect x="969" y="259" width="3" height="7" fill="#4061e6"/><path d="M973.5 270V283" stroke="#4d6ee8"/><rect x="972" y="272" width="3" height="5" fill="#4061e6"/><path d="M977.5 271V296" stroke="#4d6ee8"/><rect x="976" y="278" width="3" height="15" fill="#4061e6"/><path d="M980.5 287V305" stroke="#de3636"/><rect x="979" y="287" width="3" height="6" fill="#dd2020"/><path d="M984.5 283V301" stroke="#4d6ee8"/><rect x="983" y="288" width="3" height="10" fill="#4061e6"/><path d="M987.5 290V306" stroke="#de3636"/><rect x="986" y="301" width="3" height="2" fill="#dd2020"/><path d="M991.5 293V314" stroke="#4d6ee8"/><rect x="990" y="296" width="3" height="11" fill="#4061e6"/><path d="M995.5 301V308" stroke="#4d6ee8"/><rect x="994" y="303" width="3" height="1" fill="#4061e6"/><path d="M998.5 312V327" stroke="#4d6ee8"/><rect x="997" y="312" width="3" height="8" fill="#4061e6"/><path d="M1002.5 298V312" stroke="#de3636"/><rect x="1001" y="305" width="3" height="2" fill="#dd2020"/><path d="M1005.5 294V311" stroke="#de3636"/><rect x="1004" y="294" width="3" height="16" fill="#dd2020"/><path d="M1009.5 298V310" stroke="#4d6ee8"/><rect x="1008" y="300" width="3" height="5" fill="#4061e6"/><path d="M1012.5 301V318" stroke="#de3636"/><rect x="1011" y="301" width="3" height="10" fill="#dd2020"/><path d="M1016.5 288V303" stroke="#de3636"/><rect x="1015" y="295" width="3" height="4" fill="#dd2020"/><path d="M1019.5 281V299" stroke="#de3636"/><rect x="1018" y="284" width="3" height="10" fill="#dd2020"/><path d="M1023.5 265V297" stroke="#4d6ee8"/><rect x="1022" y="282" width="3" height="9" fill="#4061e6"/><path d="M1027.5 280V294" stroke="#de3636"/><rect x="1026" y="289" width="3" height="2" fill="#dd2020"/><path d="M1030.5 286V294" stroke="#4d6ee8"/><rect x="1029" y="288" width="3" height="2" fill="#4061e6"/><path d="M1034.5 281V294" stroke="#de3636"/><rect x="1033" y="281" width="3" height="7" fill="#dd2020"/><path d="M1037.5 261V288" stroke="#de3636"/><rect x="1036" y="276" width="3" height="3" fill="#dd2020"/><path d="M1041.5 271V279" stroke="#4d6ee8"/><rect x="1040" y="274" width="3" height="2" fill="#4061e6"/><path d="M1044.5 270V280" stroke="#4d6ee8"/><rect x="1043" y="275" width="3" height="2" fill="#4061e6"/><path d="M1048.5 261V286" stroke="#de3636"/><rect x="1047" y="264" width="3" height="20" fill="#dd2020"/><path d="M1051.5 218V263" stroke="#de3636"/><rect x="1050" y="220" width="3" height="37" fill="#dd2020"/><path d="M1055.5 200V225" stroke="#de3636"/><rect x="1054" y="214" width="3" height="6" fill="#dd2020"/><path d="M1059.5 183V223" stroke="#de3636"/><rect x="1058" y="183" width="3" height="33" fill="#dd2020"/><path d="M1062.5 184V214" stroke="#4d6ee8"/><rect x="1061" y="191" width="3" height="5" fill="#4061e6"/><path d="M1066.5 145V200" stroke="#de3636"/><rect x="1065" y="150" width="3" height="50" fill="#dd2020"/>
</g>
<rect x="1069" y="137" width="44" height="22" fill="#d9232a"/>
<text x="1076.4" y="152.3" font-size="10" font-weight="bold" fill="#fff">56,700</text>
<text x="913" y="149" font-size="12" fill="#d9262d">최고 57,300 - 2021.03.26 <tspan font-family="'Noto Sans CJK KR',sans-serif" font-size="13">→</tspan></text>
<text x="177.5" y="550" font-size="12" fill="#4f6fe6"><tspan font-family="'Noto Sans CJK KR',sans-serif" font-size="13">←</tspan> 최저 13,550 - 2020.03.19</text>
</svg>
<div class="vline" style="left:1px;top:0;height:606px"></div>
<div class="vline" style="left:1113px;top:0;height:85px"></div>
<div class="hline" style="top:43px"></div>
<div class="hline" style="top:84px"></div>

<div style="position:absolute;left:0;top:202px;width:1px;height:5px;background:#ececec"></div><div style="position:absolute;left:0;top:324px;width:1px;height:5px;background:#ececec"></div><div style="position:absolute;left:0;top:446px;width:1px;height:5px;background:#ececec"></div><div style="position:absolute;left:0;top:568px;width:1px;height:5px;background:#ececec"></div>
<!-- header -->
<svg class="ic" style="left:15px;top:12px" width="18" height="18" viewBox="0 0 18 18" fill="none" stroke="#5a5a5a" stroke-width="1.6"><rect x="1.4" y="1.3" width="15.2" height="15.4" rx="2.6"/><line x1="6.7" y1="1.3" x2="6.7" y2="16.7"/></svg>
<div class="div" style="left:45px;top:13px"></div>
<div class="abs" id="t_name" style="left:58px;top:13px;font-size:17px;font-weight:bold;color:#222">위메이드</div>
<div class="abs" id="t_mkt" style="left:128px;top:15px;font-size:14px;color:#888">코스닥</div>
<div class="abs" id="t_code" style="left:174px;top:15px;font-size:14px;letter-spacing:0.4px;color:#999">112040</div>
<div class="abs" style="left:226.5px;top:15px;font-size:16px;color:#888">·</div>
<div class="abs" id="t_price" style="left:237.300px;top:13.5px;font-size:18px;letter-spacing:0.5px;color:#d91f26;-webkit-text-stroke:0.45px #d91f26">56,700</div>
<svg class="ic" style="left:300px;top:18px" width="10" height="8" viewBox="0 0 10 8"><path d="M5 0.8L9.1 7.4H0.9z" fill="#d91f26"/></svg>
<div class="abs" id="t_chg" style="left:313px;top:15px;font-size:14px;color:#d9353b">5,200</div>
<div class="abs" id="t_pct" style="left:357px;top:15px;font-size:14px;color:#d9353b">+10.10%</div>
<div class="abs" style="left:418px;top:15px;font-size:16px;color:#888">·</div>
<div class="abs" id="t_vol_l" style="left:428px;top:15px;font-size:14px;color:#888">거래량</div>
<div class="abs" id="t_vol" style="left:471px;top:15px;font-size:14px;letter-spacing:0.1px;color:#333">645,286</div>
<div class="abs" id="t_amt_l" style="left:530px;top:15px;font-size:14px;color:#888">거래대금</div>
<div class="abs" id="t_amt" style="left:586px;top:15px;font-size:14px;color:#333">356억 1,018만</div>
<svg class="ic" style="left:1033px;top:11px" width="20" height="20" viewBox="0 0 20 20" fill="none" stroke="#555" stroke-width="1.4" stroke-linecap="round"><path d="M12 2.2H4.2a2.5 2.5 0 0 0-2.5 2.5v11.3a2.5 2.5 0 0 0 2.5 2.5h11.3a2.5 2.5 0 0 0 2.5-2.5V9.5"/><line x1="5.5" y1="14.5" x2="18.5" y2="1.2"/></svg>
<div class="div" style="left:1069px;top:13px"></div>
<svg class="ic" style="left:1082px;top:12px" width="18" height="18" viewBox="0 0 18 18" fill="none" stroke="#555" stroke-width="1.4"><rect x="1.2" y="1.2" width="16" height="15.6" rx="2.5"/><line x1="11" y1="1.2" x2="11" y2="16.8"/></svg>

<!-- toolbar -->
<svg class="ic" style="left:14px;top:55px" width="20" height="20" viewBox="0 0 20 20" fill="none" stroke="#484848" stroke-width="1.6"><circle cx="3.600" cy="15.600" r="2"/><circle cx="16.500" cy="2.600" r="2"/><line x1="5" y1="14.200" x2="15.100" y2="4"/></svg>
<div class="div" style="left:45px;top:56px"></div>
<svg class="ic" style="left:0;top:0" width="260" height="85" viewBox="0 0 260 85" fill="none" stroke="#444" stroke-width="1.5" stroke-linecap="round" stroke-linejoin="round"><path d="M60.600 65.200L66 59.700l6.200 3L78.500 56.700"/><circle cx="60.500" cy="65.300" r="0.900" fill="#444"/><circle cx="78.600" cy="56.600" r="0.900" fill="#444"/><line x1="60.400" y1="70.600" x2="72.600" y2="70.600"/><line x1="74.900" y1="70.600" x2="79.700" y2="70.600"/><line x1="77.300" y1="68.200" x2="77.300" y2="73"/></svg>
<div class="abs" id="t_ind" style="left:86.5px;top:57px;font-size:15px;font-weight:700;color:#444">보조지표</div>
<div class="div" style="left:154px;top:56px"></div>
<svg class="ic" style="left:0;top:0" width="260" height="85" viewBox="0 0 260 85" fill="none" stroke="#444" stroke-width="1.5" stroke-linecap="round"><line x1="168.8" y1="56.6" x2="176.7" y2="56.6"/><line x1="172.7" y1="62" x2="172.7" y2="71.4"/><path d="M172.7 59.4l2.9 4.6h-5.8z" fill="#444" stroke-width="0.6" stroke-linejoin="round"/><line x1="185.3" y1="56.6" x2="185.3" y2="66"/><path d="M185.3 68.4l2.9-4.6h-5.800z" fill="#444" stroke-width="0.6" stroke-linejoin="round"/><line x1="181.4" y1="71.2" x2="189.1" y2="71.2"/></svg>
<div class="abs" id="t_str" style="left:195.5px;top:57px;font-size:15px;font-weight:700;color:#444">매매전략</div>

<div class="abs" id="p1" style="left:858.6px;top:57.5px;transform:translateX(-50%);font-size:14.5px;font-weight:500;color:#9a9a9a">분</div>
<div class="div" style="left:881px;top:58px;height:12px"></div>
<div class="abs" id="p2" style="left:903.2px;top:57.5px;transform:translateX(-50%);font-size:14.5px;font-weight:bold;color:#222">일</div>
<div class="abs" style="left:903px;top:75px;width:4px;height:4px;border-radius:2px;background:#d91f26"></div>
<div class="div" style="left:926px;top:58px;height:12px"></div>
<div class="abs" id="p3" style="left:948.2px;top:57.5px;transform:translateX(-50%);font-size:14.5px;font-weight:500;color:#9a9a9a">주</div>
<div class="div" style="left:971px;top:58px;height:12px"></div>
<div class="abs" id="p4" style="left:993px;top:57.5px;transform:translateX(-50%);font-size:14.5px;font-weight:500;color:#9a9a9a">월</div>
<div class="div" style="left:1016px;top:58px;height:12px"></div>
<div class="abs" id="p5" style="left:1038.5px;top:57.5px;transform:translateX(-50%);font-size:14.5px;font-weight:500;color:#9a9a9a">년</div>
<div class="div" style="left:1069px;top:56px"></div>
<svg class="ic" style="left:1080px;top:53px" width="22" height="22" viewBox="0 0 22 22" fill="none" stroke="#5a5a5a" stroke-linejoin="round"><circle cx="11" cy="11" r="4.1" stroke-width="1.9"/><path d="M9.42 1.53 L12.58 1.53 L12.89 3.64 L14.87 4.46 L16.58 3.19 L18.81 5.42 L17.54 7.13 L18.36 9.11 L20.47 9.42 L20.47 12.58 L18.36 12.89 L17.54 14.87 L18.81 16.58 L16.58 18.81 L14.87 17.54 L12.89 18.36 L12.58 20.47 L9.42 20.47 L9.11 18.36 L7.13 17.54 L5.42 18.81 L3.19 16.58 L4.46 14.87 L3.64 12.89 L1.53 12.58 L1.53 9.42 L3.64 9.11 L4.46 7.13 L3.19 5.42 L5.42 3.19 L7.13 4.46 L9.11 3.64z" stroke-width="1.5"/></svg>

<!-- legend -->
<div class="abs" id="l1" style="left:14.500px;top:93px;font-size:12px;color:#555">시</div>
<div class="abs" id="l2" style="left:31px;top:93px;font-size:12px;color:#4f6fe6">51,300 (-0.39%)</div>
<div class="abs" id="l3" style="left:125.300px;top:93px;font-size:12px;color:#555">고</div>
<div class="abs" id="l4" style="left:142px;top:93px;font-size:12px;color:#d9353b">57,300 (+11.26%)</div>
<div class="abs" id="l5" style="left:247px;top:93px;font-size:12px;color:#555">저</div>
<div class="abs" id="l6" style="left:263px;top:93px;font-size:12px;color:#4f6fe6">51,300 (-0.39%)</div>
<div class="abs" id="l7" style="left:358px;top:93px;font-size:12px;color:#555">종</div>
<div class="abs" id="l8" style="left:375px;top:93px;font-size:12px;color:#d9353b">56,700 (+10.10%)</div>
<div class="abs" id="m0" style="left:14.3px;top:115px;font-size:12px;color:#555">단순이동평균</div><div class="abs" id="m0b" style="left:83.800px;top:115px;font-size:12px;color:#555;word-spacing:-0.25px">(3, 10, 12, 20, 240)</div>
<div class="abs" id="m1" style="left:192px;top:115px;font-size:12px;color:#b57bee">53,700</div>
<div class="abs" id="m2" style="left:238px;top:115px;font-size:12px;color:#f2452b">47,505</div>
<div class="abs" id="m3" style="left:285px;top:115px;font-size:12px;color:#f2a93b">46,475</div>
<div class="abs" id="m4" style="left:331px;top:115px;font-size:12px;color:#5cb563">43,993</div>
<div class="abs" id="m5" style="left:377px;top:115px;font-size:12px;color:#1a8f8a">36,938</div>
</body></html>
